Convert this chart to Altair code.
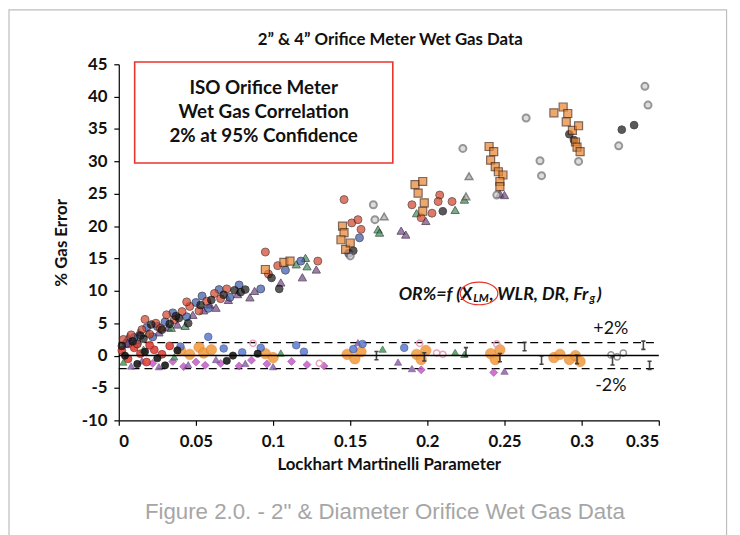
import altair as alt
import pandas as pd

# ---------------- data ----------------
# upper band (uncorrected orifice error)
red_x = [0.003, 0.008, 0.012, 0.015, 0.020, 0.024, 0.027, 0.031, 0.036, 0.041, 0.046, 0.052, 0.057, 0.062, 0.066, 0.070,
         0.095, 0.097, 0.103, 0.129, 0.146, 0.151, 0.155, 0.157, 0.190, 0.203, 0.208, 0.207, 0.216, 0.196, 0.017, 0.044]
red_y = [2.5, 3.2, 1.8, 4.0, 3.3, 5.0, 4.2, 6.3, 5.5, 6.8, 7.6, 6.9, 8.4, 9.6, 8.8, 10.3,
         16.0, 12.6, 13.9, 14.6, 24.1, 20.5, 21.0, 19.5, 23.3, 22.0, 24.8, 23.8, 23.8, 21.3, 5.6, 8.3]
blue_x = [0.005, 0.010, 0.018, 0.022, 0.030, 0.035, 0.044, 0.050, 0.058, 0.065, 0.072, 0.078, 0.092, 0.108, 0.118, 0.156,
          0.149, 0.025, 0.054]
blue_y = [1.9, 2.8, 4.3, 2.9, 5.2, 6.6, 6.0, 8.2, 7.3, 10.2, 9.0, 10.9, 10.3, 13.2, 14.6, 18.2,
          15.8, 4.5, 9.2]
black_x = [0.002, 0.009, 0.016, 0.021, 0.028, 0.033, 0.039, 0.045, 0.053, 0.060, 0.068, 0.075, 0.079, 0.082, 0.104, 0.099,
           0.152, 0.210, 0.292, 0.295, 0.326, 0.334, 0.014, 0.037]
black_y = [1.5, 2.2, 2.6, 4.8, 4.0, 4.9, 5.8, 5.0, 7.8, 8.6, 9.4, 10.1, 9.8, 10.2, 10.3, 12.0,
           16.2, 22.3, 34.2, 33.3, 34.9, 35.6, 3.1, 6.1]
purple_x = [0.006, 0.013, 0.026, 0.038, 0.048, 0.055, 0.063, 0.071, 0.077, 0.085, 0.088, 0.119, 0.128, 0.105, 0.183,
            0.186, 0.199, 0.247, 0.250, 0.032, 0.059]
purple_y = [2.9, 3.6, 3.6, 4.8, 6.3, 7.0, 7.4, 8.6, 9.5, 9.0, 10.0, 12.1, 13.3, 11.3, 19.3,
            18.7, 20.8, 25.0, 24.8, 4.4, 7.9]
green_x = [0.011, 0.019, 0.034, 0.043, 0.115, 0.121, 0.122, 0.168, 0.169, 0.193, 0.218, 0.224]
green_y = [2.4, 3.5, 4.3, 4.6, 14.1, 15.1, 13.8, 19.5, 19.0, 22.0, 22.5, 24.1]
orange_x = [0.095, 0.107, 0.111, 0.145, 0.146, 0.144, 0.147, 0.150, 0.192, 0.197, 0.194, 0.198, 0.197,
            0.240, 0.243, 0.241, 0.244, 0.246, 0.249, 0.247, 0.247, 0.282, 0.288, 0.291, 0.290, 0.294, 0.296,
            0.297, 0.299, 0.298]
orange_y = [13.3, 14.4, 14.6, 20.0, 19.0, 17.9, 16.4, 17.4, 26.4, 26.9, 25.1, 23.6, 22.3,
            32.3, 31.5, 30.2, 29.2, 28.4, 27.9, 26.9, 26.1, 37.5, 38.4, 37.4, 36.1, 34.8, 33.0,
            32.2, 31.5, 35.5]
gray_x = [0.341, 0.343, 0.324, 0.264, 0.273, 0.274, 0.223, 0.298, 0.165, 0.166, 0.150, 0.245]
gray_y = [41.6, 38.7, 32.4, 36.7, 30.1, 27.8, 32.0, 30.0, 23.3, 21.0, 15.4, 24.8]
graytri_x = [0.227, 0.172, 0.225]
graytri_y = [27.7, 21.5, 24.6]

# lower band (corrected with the wet gas correlation)
lred_x = [0.002, 0.006, 0.010, 0.014, 0.018, 0.023, 0.028, 0.033, 0.006, 0.020]
lred_y = [0.8, -0.5, 1.2, 0.3, -1.0, 0.9, 0.2, 1.5, 1.8, 1.6]
lblack_x = [0.004, 0.012, 0.017, 0.025, 0.030, 0.038, 0.074, 0.070, 0.090]
lblack_y = [0.0, -1.3, 0.6, -0.4, -1.5, 0.8, 0.0, -0.8, 0.3]
lpurple_x = [0.008, 0.015, 0.026, 0.045, 0.063, 0.082, 0.100, 0.155, 0.181, 0.190, 0.250]
lpurple_y = [-1.6, -0.8, -1.7, -1.4, -0.6, -1.2, -1.7, 2.0, -1.0, -2.0, -2.4]
lmag_x = [0.022, 0.035, 0.042, 0.050, 0.056, 0.066, 0.078, 0.086, 0.096, 0.112, 0.122, 0.133, 0.196, 0.243]
lmag_y = [-1.2, -0.9, -1.7, -1.0, -1.5, -1.2, -1.6, -0.7, -1.3, -0.9, -1.4, -1.6, -2.2, -2.6]
lblue_x = [0.012, 0.040, 0.058, 0.068, 0.080, 0.092, 0.115, 0.120, 0.152, 0.158, 0.185]
lblue_y = [1.9, 1.4, 2.9, 1.1, 0.5, 1.2, 1.6, 0.6, 1.0, 1.8, 1.2]
lgreen_x = [0.003, 0.016, 0.036, 0.105, 0.171, 0.218, 0.224]
lgreen_y = [-1.0, 1.0, -0.2, 0.4, 1.0, 0.5, 0.2]
lorange_x = [0.040, 0.046, 0.052, 0.055, 0.060, 0.095, 0.100, 0.148, 0.153, 0.157, 0.193, 0.196, 0.199,
             0.241, 0.244, 0.247, 0.282, 0.286, 0.292, 0.296, 0.299]
lorange_y = [0.8, 0.2, 1.3, 0.4, 0.9, 0.3, -0.3, 0.2, -0.5, 0.6, 0.2, -0.6, 0.8,
             0.3, -0.6, 0.9, -0.3, 0.2, -0.6, 0.0, -0.9]
lpink_x = [0.195, 0.206, 0.210, 0.245, 0.130, 0.087]
lpink_y = [1.9, 0.4, 0.2, 1.8, -1.2, 1.9]
lgray_x = [0.319, 0.327, 0.323]
lgray_y = [0.1, 0.4, -0.2]
ibeam_x = [0.167, 0.198, 0.225, 0.247, 0.263, 0.274, 0.297, 0.340, 0.344, 0.320]
ibeam_y = [0.0, -0.2, 0.6, -0.3, 1.4, -0.7, -0.6, 1.6, -1.5, -0.8]

# reference lines
ref_y = [2, -2]
zero_y = [0]

# tick values
x_ticks = [0, 0.05, 0.1, 0.15, 0.2, 0.25, 0.3, 0.35]
y_ticks = [-10, -5, 0, 5, 10, 15, 20, 25, 30, 35, 40, 45]

# annotation text
box_lines = ["ISO Orifice Meter", "Wet Gas Correlation", "2% at 95% Confidence"]
box_line_y = [41.4, 37.6, 33.9]
eq_parts = ["OR%=f (X", "LM", ", WLR, DR, Fr", "g", ")"]
eq_x = [0.1814, 0.2298, 0.2402, 0.3050, 0.3100]
eq_y = [8.63, 8.25, 8.63, 8.25, 8.63]
eq_size = [18, 11.5, 18, 11.5, 18]

FONT = "Lato"

xsc = alt.Scale(domain=[0, 0.35], nice=False, zero=False)
ysc = alt.Scale(domain=[-10, 45], nice=False, zero=False)
X = alt.X("x:Q", scale=xsc, title="Lockhart Martinelli Parameter",
          axis=alt.Axis(values=x_ticks, labelExpr="datum.value", grid=False))
Y = alt.Y("y:Q", scale=ysc, title="% Gas Error",
          axis=alt.Axis(values=y_ticks, labelExpr="datum.value", grid=False))


def pts(xs, ys, **mark):
    df = pd.DataFrame({"x": xs, "y": ys})
    return alt.Chart(df).mark_point(**mark).encode(x=X, y=Y)


IBEAM = "M-0.5,-1L0.5,-1M0,-1L0,1M-0.5,1L0.5,1"

layers = []

# frame of the document page
layers.append(alt.Chart(pd.DataFrame({"a": [0]})).mark_rect(
    fillOpacity=0, stroke="#bdbdbd", strokeWidth=1.2).encode(
    x=alt.value(-111), x2=alt.value(614.5), y=alt.value(-55), y2=alt.value(700)))

# reference lines
layers.append(alt.Chart(pd.DataFrame({"y": ref_y, "x": [0, 0], "x2": [0.35, 0.35]})).mark_rule(
    color="black", strokeWidth=1.2, strokeDash=[8, 5]).encode(x=X, x2="x2:Q", y=Y))

# lower band
layers.append(pts(lorange_x, lorange_y, shape="circle", filled=True, fill="#f29a3c", stroke="#e07820",
                  strokeWidth=0.6, size=110, opacity=0.85))
layers.append(pts(lmag_x, lmag_y, shape="diamond", filled=True, fill="#c55bc9", stroke="#8a3a90",
                  strokeWidth=0.6, size=65, opacity=0.85))
layers.append(pts(lpurple_x, lpurple_y, shape="triangle-up", filled=True, fill="#8e62b0", stroke="#5a3a70",
                  strokeWidth=0.6, size=55, opacity=0.85))
layers.append(pts(lblue_x, lblue_y, shape="circle", filled=True, fill="#5b7bd0", stroke="#2a3a70",
                  strokeWidth=0.6, size=60, opacity=0.85))
layers.append(pts(lred_x, lred_y, shape="circle", filled=True, fill="#e0433a", stroke="#6a1a15",
                  strokeWidth=0.6, size=65, opacity=0.9))
layers.append(pts(lgreen_x, lgreen_y, shape="triangle-up", filled=True, fill="#4a9a5a", stroke="#1f4a2a",
                  strokeWidth=0.6, size=55, opacity=0.85))
layers.append(pts(lblack_x, lblack_y, shape="circle", filled=True, fill="#1a1a1a", stroke="#000000",
                  strokeWidth=0.6, size=55, opacity=0.9))
layers.append(pts(lpink_x, lpink_y, shape="circle", filled=False, stroke="#e69ab8",
                  strokeWidth=1.5, size=40, opacity=0.9))
layers.append(pts(lgray_x, lgray_y, shape="circle", filled=False, stroke="#8a8a8a",
                  strokeWidth=1.5, size=40, opacity=0.9))
layers.append(pts(ibeam_x, ibeam_y, shape=IBEAM, filled=False, stroke="#333333",
                  strokeWidth=1.6, size=70, opacity=0.9))

# zero line
layers.append(alt.Chart(pd.DataFrame({"y": zero_y, "x": [0], "x2": [0.35]})).mark_rule(
    color="black", strokeWidth=1.5).encode(x=X, x2="x2:Q", y=Y))

# upper band
layers.append(pts(purple_x, purple_y, shape="triangle-up", filled=True, fill="#74468a", stroke="#2a1530",
                  strokeWidth=1, size=70))
layers.append(pts(green_x, green_y, shape="triangle-up", filled=True, fill="#3e8c58", stroke="#14301d",
                  strokeWidth=1, size=70))
layers.append(pts(blue_x, blue_y, shape="circle", filled=True, fill="#3a58a8", stroke="#141c3c",
                  strokeWidth=1, size=65))
layers.append(pts(red_x, red_y, shape="circle", filled=True, fill="#d2432b", stroke="#4a1a10",
                  strokeWidth=1, size=65))
layers.append(pts(black_x, black_y, shape="circle", filled=True, fill="#141414", stroke="#000000",
                  strokeWidth=1, size=60))
layers.append(pts(graytri_x, graytri_y, shape="triangle-up", filled=True, fill="#a8a8a8", stroke="#555555",
                  strokeWidth=1.5, size=60))
layers.append(pts(gray_x, gray_y, shape="circle", filled=True, fill="#d0d0d0", stroke="#6a6a6a",
                  strokeWidth=2, size=50))
layers.append(pts(orange_x, orange_y, shape="square", filled=True, fill="#e8842e", stroke="#4a2410",
                  strokeWidth=1.2, size=65))

# red text box
layers.append(alt.Chart(pd.DataFrame({"x": [0.0103], "x2": [0.1776], "y": [45.35], "y2": [29.75]})).mark_rect(
    fill="white", stroke="#e8352b", strokeWidth=1.6).encode(x=X, x2="x2:Q", y=Y, y2="y2:Q"))
layers.append(alt.Chart(pd.DataFrame({"x": [0.0939] * 3, "y": box_line_y, "t": box_lines})).mark_text(
    font=FONT, fontSize=19, fontWeight="bold", color="#111111", baseline="middle", align="center").encode(
    x=X, y=Y, text="t:N"))

# correlation equation
eq = pd.DataFrame({"x": eq_x, "y": eq_y, "t": eq_parts, "s": eq_size})
layers.append(alt.Chart(eq).mark_text(font=FONT, fontWeight="bold", fontStyle="italic", color="#111111",
                                      align="left", baseline="alphabetic").encode(
    x=X, y=Y, text="t:N", size=alt.Size("s:Q", scale=None, legend=None)))
layers.append(alt.Chart(pd.DataFrame({"x": [0.2335], "y": [9.6]})).mark_point(
    shape="M-1,0A1,0.6,0,1,1,1,0A1,0.6,0,1,1,-1,0Z", filled=False, stroke="#e8352b",
    strokeWidth=1.2, size=1444, opacity=1).encode(x=X, y=Y))

# +2% / -2% labels
layers.append(alt.Chart(pd.DataFrame({"x": [0.3189, 0.3189], "y": [4.05, -4.74], "t": ["+2%", "-2%"]})).mark_text(
    font=FONT, fontSize=18, color="#111111", align="center", baseline="middle").encode(x=X, y=Y, text="t:N"))

# chart title
layers.append(alt.Chart(pd.DataFrame({"t": ["2\u201d & 4\u201d Orifice Meter Wet Gas Data"]})).mark_text(
    font=FONT, fontSize=17, fontWeight="bold", color="#111111", align="center", baseline="middle").encode(
    x=alt.value(274.5), y=alt.value(-24), text="t:N"))

# figure caption
layers.append(alt.Chart(pd.DataFrame({"t": ["Figure 2.0. - 2\" & Diameter Orifice Wet Gas Data"]})).mark_text(
    font="Liberation Sans", fontSize=22.5, color="#a6a6a6", align="center", baseline="middle").encode(
    x=alt.value(269), y=alt.value(453), text="t:N"))

chart = alt.layer(*layers).properties(
    width=546, height=360,
    padding={"left": 112, "top": 54, "right": 74, "bottom": 113},
    autosize=alt.AutoSizeParams(type="none"),
).configure_view(stroke=None).configure_axis(
    domainColor="black", tickColor="black", labelColor="#111111", titleColor="#111111",
    labelFont=FONT, titleFont=FONT, labelFontSize=17, titleFontSize=17,
    labelFontWeight="bold", titleFontWeight="bold", tickSize=5, domainWidth=1.2, tickWidth=1.2,
).configure_axisX(labelPadding=8, titlePadding=8).configure_axisY(labelPadding=7, titlePadding=11)

chart.save("out.html", embed_options={"renderer": "svg", "actions": False})
